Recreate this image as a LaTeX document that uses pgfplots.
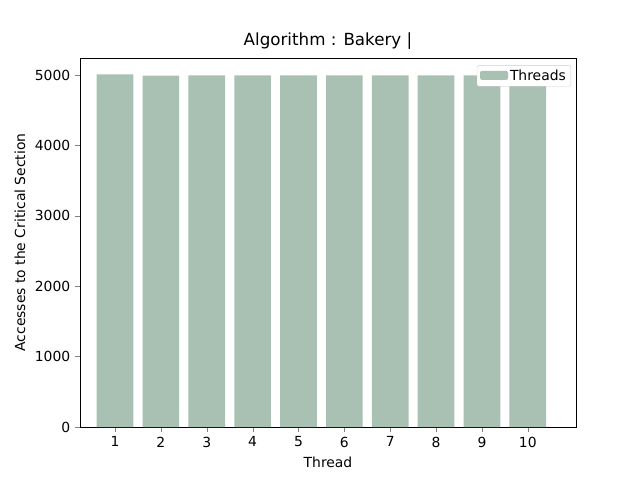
\documentclass[border=0pt]{standalone}
\usepackage{pgfplots}
\pgfplotsset{compat=1.18}
\usepackage{fontspec}
\setmainfont{DejaVu Sans}
\definecolor{barc}{HTML}{A9C1B3}
\begin{document}
\fontsize{13.9}{16}\selectfont
\begin{tikzpicture}
\path (-80pt,-53pt) rectangle (560pt,427pt);
\begin{axis}[scale only axis, width=496pt, height=369pt,
  xmin=0.237, xmax=11.05, ymin=0, ymax=5241,
  xtick={1,...,10}, ytick={0,1000,2000,3000,4000,5000},
  /pgf/number format/assume math mode=true,
  scaled y ticks=false, yticklabel style={/pgf/number format/1000 sep={}},
  tick label style={font=\fontsize{13.9}{16}\selectfont},
  label style={font=\fontsize{13.9}{16}\selectfont},
  tick align=outside, tick pos=left, major tick length=4.9pt,
  title={Algorithm : Bakery |}, title style={font=\fontsize{16.7}{19}\selectfont, yshift=-2pt},
  xlabel={Thread}, ylabel={Accesses to the Critical Section},
  legend style={at={(0.99,0.98)}, anchor=north east, draw=black!20, rounded corners=2pt, font=\fontsize{13.9}{16}\selectfont},
  legend image code/.code={\fill[barc] (0pt,-4pt) rectangle (28pt,5pt);},
]
\addplot[ybar, bar width=36.7pt, fill=barc, draw=none] coordinates {
(1,5010) (2,4992) (3,4994) (4,4995) (5,4993) (6,4994) (7,4995) (8,4994) (9,4993) (10,4994)};
\addlegendentry{Threads}
\end{axis}
\end{tikzpicture}
\end{document}
